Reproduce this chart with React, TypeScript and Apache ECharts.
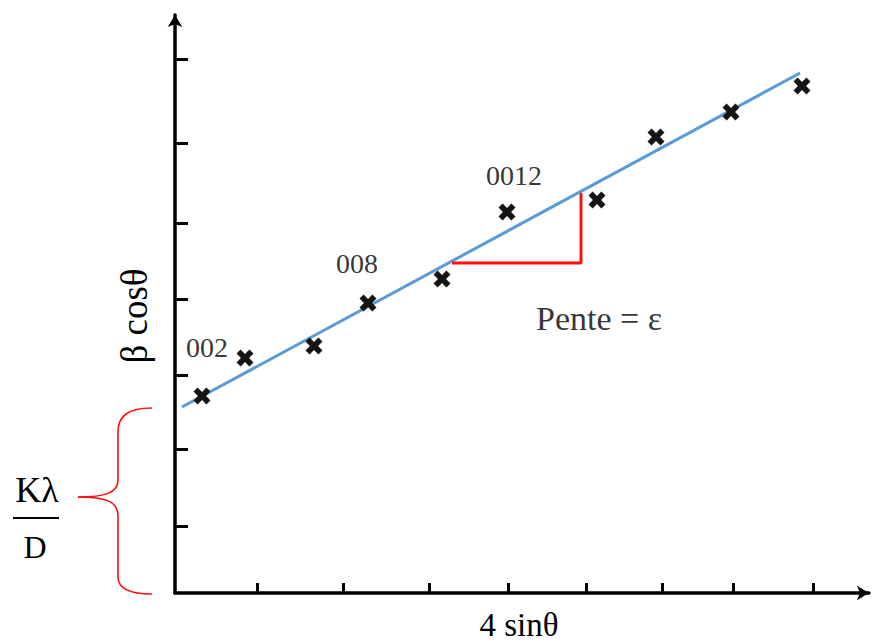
import React, { useEffect, useRef } from "react";
import * as echarts from "echarts";

// Measured points (arbitrary units: 1 unit ≈ 10 px)
const points: [number, number][] = [
  [2.7, 19.7],
  [7.0, 23.5],
  [13.9, 24.7],
  [19.3, 29.0],
  [26.7, 31.4],
  [33.2, 38.1],
  [42.2, 39.3],
  [48.1, 45.6],
  [55.6, 48.1],
  [62.7, 50.7],
];
const fitLine: [number, number][] = [
  [0.7, 18.6],
  [62.5, 52.0],
];
const slopeTriangle: [number, number][] = [
  [27.7, 33.0],
  [40.6, 33.0],
  [40.6, 40.0],
];
const peakLabels: [number, number, string][] = [
  [3.2, 24.6, "002"],
  [18.2, 33.0, "008"],
  [33.9, 41.8, "0012"],
];
const slopeLabel: [number, number, string][] = [[42.4, 27.5, "Pente = ε"]];
const xTicks = [8.2, 16.8, 25.4, 33.3, 41.1, 48.7, 55.8, 63.8];
const yTicks = [6.7, 14.4, 21.8, 29.4, 37.0, 45.0, 53.4];
const xName = "4 sinθ";
const yName = "β cosθ";

const SERIF = "'Liberation Serif', 'DejaVu Serif', serif";
const CROSS =
  "path://M2.4,0 L5,2.6 L7.6,0 L10,2.4 L7.4,5 L10,7.6 L7.6,10 L5,7.4 L2.4,10 L0,7.6 L2.6,5 L0,2.4 Z";

export default function App() {
  const ref = useRef<HTMLDivElement>(null);
  useEffect(() => {
    if (!ref.current) return;
    const chart = echarts.init(ref.current, null, { renderer: "svg" });
    const red = "#ff1010";
    chart.setOption({
      animation: false,
      backgroundColor: "#ffffff",
      grid: {
        left: 175,
        top: 15,
        width: 694,
        height: 578,
        outerBoundsMode: "none",
        containLabel: false,
      },
      xAxis: {
        type: "value",
        min: 0,
        max: 69.4,
        splitLine: { show: false },
        axisLabel: { show: false },
        axisLine: {
          show: true,
          onZero: false,
          symbol: ["none", "arrow"],
          symbolSize: [11, 12],
          lineStyle: { color: "#000", width: 3.5 },
        },
        axisTick: {
          show: true,
          inside: true,
          length: 10,
          customValues: xTicks,
          lineStyle: { color: "#000", width: 3 },
        },
      },
      yAxis: {
        type: "value",
        min: 0,
        max: 57.8,
        splitLine: { show: false },
        axisLabel: { show: false },
        axisLine: {
          show: true,
          onZero: false,
          symbol: ["none", "arrow"],
          symbolSize: [11, 12],
          lineStyle: { color: "#000", width: 3.5 },
        },
        axisTick: {
          show: true,
          inside: true,
          length: 13,
          customValues: yTicks,
          lineStyle: { color: "#000", width: 3 },
        },
      },
      series: [
        {
          type: "line",
          data: fitLine,
          symbol: "none",
          lineStyle: { color: "#5b9bd5", width: 3 },
          z: 2,
        },
        {
          type: "line",
          data: slopeTriangle,
          symbol: "none",
          lineStyle: { color: red, width: 3 },
          z: 2,
        },
        {
          type: "scatter",
          data: points,
          symbol: CROSS,
          symbolSize: 17,
          itemStyle: { color: "#151515", opacity: 1 },
          z: 3,
        },
        {
          type: "scatter",
          data: peakLabels,
          symbolSize: 0,
          label: {
            show: true,
            position: "inside",
            formatter: (p: any) => p.data[2],
            fontFamily: SERIF,
            fontSize: 28,
            color: "#000",
          },
          z: 4,
        },
        {
          type: "scatter",
          data: slopeLabel,
          symbolSize: 0,
          label: {
            show: true,
            position: "inside",
            formatter: (p: any) => p.data[2],
            fontFamily: SERIF,
            fontSize: 34,
            color: "#000",
          },
          z: 4,
        },
      ],
      graphic: [
        {
          type: "text",
          x: 519,
          y: 641,
          style: {
            text: xName,
            fontFamily: SERIF,
            fontSize: 33,
            fill: "#000",
            align: "center",
            verticalAlign: "bottom",
          },
        },
        {
          type: "text",
          x: 134,
          y: 316,
          rotation: Math.PI / 2,
          style: {
            text: yName,
            fontFamily: SERIF,
            fontSize: 37,
            fill: "#000",
            align: "center",
            verticalAlign: "middle",
          },
        },
        {
          type: "text",
          x: 37,
          y: 490,
          style: {
            text: "Kλ",
            fontFamily: SERIF,
            fontSize: 36,
            fill: "#000",
            align: "center",
            verticalAlign: "middle",
          },
        },
        {
          type: "line",
          shape: { x1: 13, y1: 518, x2: 59, y2: 518 },
          style: { stroke: "#000", lineWidth: 2 },
        },
        {
          type: "text",
          x: 35,
          y: 547,
          style: {
            text: "D",
            fontFamily: SERIF,
            fontSize: 32,
            fill: "#000",
            align: "center",
            verticalAlign: "middle",
          },
        },
        // Red curly brace
        {
          type: "bezierCurve",
          shape: { x1: 152, y1: 408, cpx1: 128, cpy1: 408, cpx2: 118, cpy2: 416, x2: 118, y2: 432 },
          style: { stroke: red, lineWidth: 1.6, fill: "none" },
        },
        {
          type: "line",
          shape: { x1: 118, y1: 432, x2: 118, y2: 480 },
          style: { stroke: red, lineWidth: 1.6 },
        },
        {
          type: "bezierCurve",
          shape: { x1: 118, y1: 480, cpx1: 118, cpy1: 493, cpx2: 105, cpy2: 497, x2: 78, y2: 497 },
          style: { stroke: red, lineWidth: 1.6, fill: "none" },
        },
        {
          type: "bezierCurve",
          shape: { x1: 78, y1: 497, cpx1: 105, cpy1: 497, cpx2: 118, cpy2: 501, x2: 118, y2: 516 },
          style: { stroke: red, lineWidth: 1.6, fill: "none" },
        },
        {
          type: "line",
          shape: { x1: 118, y1: 516, x2: 118, y2: 577 },
          style: { stroke: red, lineWidth: 1.6 },
        },
        {
          type: "bezierCurve",
          shape: { x1: 118, y1: 577, cpx1: 118, cpy1: 588, cpx2: 128, cpy2: 594, x2: 152, y2: 594 },
          style: { stroke: red, lineWidth: 1.6, fill: "none" },
        },
      ],
    });
    return () => chart.dispose();
  }, []);
  return (
    <div
      ref={ref}
      style={{ position: "fixed", left: 0, top: 0, width: 875, height: 643 }}
    />
  );
}
